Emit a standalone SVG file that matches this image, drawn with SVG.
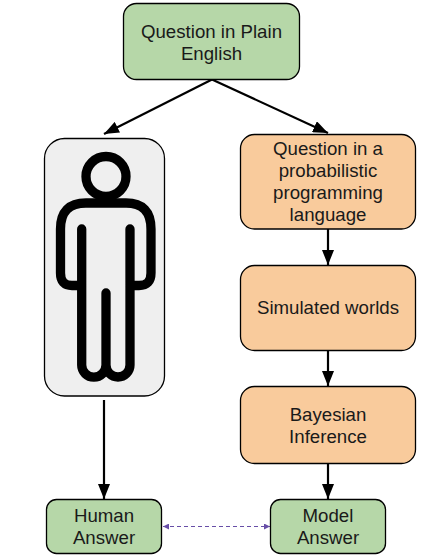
<svg xmlns="http://www.w3.org/2000/svg" width="421" height="559" viewBox="0 0 421 559">
<style>
.box{stroke:#000;stroke-width:1.3}
.green{fill:#b6d7a8}
.orange{fill:#f9cb9c}
.grey{fill:#efefef}
text{font-family:"Liberation Sans",Arial,sans-serif;font-size:18.670px;fill:#1a1a1a;text-anchor:middle}
.c{fill:none;stroke:#000;stroke-width:2.2}
.d{fill:none;stroke:#674ea7;stroke-width:1;stroke-dasharray:4 3}
</style>
<defs>
<marker id="a" markerUnits="userSpaceOnUse" markerWidth="16" markerHeight="12" refX="15" refY="6" orient="auto"><path d="M0 0L15 6L0 12Z" fill="#000"/></marker>
<marker id="p" markerUnits="userSpaceOnUse" markerWidth="7" markerHeight="6" refX="6" refY="3" orient="auto-start-reverse"><path d="M0 0L6 3L0 6Z" fill="#674ea7"/></marker>
</defs>
<rect width="421" height="559" fill="#fff"/>
<g id="connectors">
<path class="c" marker-end="url(#a)" d="M212 79.500L104 134"/>
<path class="c" marker-end="url(#a)" d="M212 79.500L328 133"/>
<path class="c" marker-end="url(#a)" d="M328 229V265"/>
<path class="c" marker-end="url(#a)" d="M328 350.500V386"/>
<path class="c" marker-end="url(#a)" d="M328 463.500V499"/>
<path class="c" marker-end="url(#a)" d="M104 400V499"/>
<path class="d" marker-start="url(#p)" marker-end="url(#p)" d="M163 526.500H270"/>
</g>
<g id="question-plain"><rect class="box green" x="123.500" y="3.500" width="176" height="76" rx="13"/><text x="211.500" y="38">Question in Plain</text><text x="211.500" y="60">English</text></g>
<g id="human"><rect class="box grey" x="44.500" y="138.500" width="120" height="257.500" rx="20"/>
<g fill="none" stroke="#000" stroke-width="9.300" stroke-linecap="round"><circle cx="106" cy="176.500" r="20"/><path d="M81.700 229V365a12 12 0 0 0 24.300 0V293M106 365a12 12 0 0 0 24 0V229M81.700 285.500H72Q60.500 285.500 60.500 273V229Q60.500 203 86 203H126Q151 203 151 229V273Q151 285.500 139 285.500H130"/></g></g>
<g id="question-ppl"><rect class="box orange" x="240.500" y="134.500" width="175" height="94.500" rx="14"/><text x="328" y="155">Question in a</text><text x="328" y="177">probabilistic</text><text x="328" y="199">programming</text><text x="328" y="221">language</text></g>
<g id="simulated"><rect class="box orange" x="240.500" y="265.500" width="175" height="85" rx="14"/><text x="328" y="314">Simulated worlds</text></g>
<g id="bayesian"><rect class="box orange" x="240.500" y="386.500" width="175" height="77" rx="14"/><text x="328" y="421">Bayesian</text><text x="328" y="443">Inference</text></g>
<g id="human-answer"><rect class="box green" x="46.500" y="499.500" width="115" height="54" rx="10"/><text x="104" y="522">Human</text><text x="104" y="544">Answer</text></g>
<g id="model-answer"><rect class="box green" x="270.500" y="499.500" width="115" height="54" rx="10"/><text x="328" y="522">Model</text><text x="328" y="544">Answer</text></g>
</svg>
